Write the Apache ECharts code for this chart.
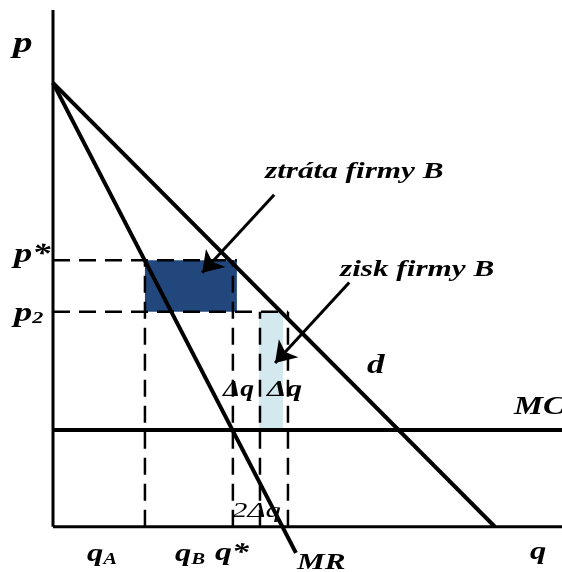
<!DOCTYPE html>
<html>
<head>
<meta charset="utf-8">
<script src="https://cdn.jsdelivr.net/npm/echarts@6/dist/echarts.min.js"></script>
<style>
  html, body { margin: 0; padding: 0; background: #fff; }
  #chart { width: 562px; height: 572px; }
</style>
</head>
<body>
<div id="chart"></div>
<script>
// Price / quantity model (price p on the vertical axis, quantity q on the horizontal)
const demandCurve = [[0, 100], [99.5, 0]];
const marginalRevenue = [[0, 100], [54.7, -5.9]];
const marginalCost = 21.8;
const priceStar = 60;
const priceTwo = 48.4;
const qEdges = [20.7, 40.5, 46.6, 52.9];        // dashed guide quantities
const lossBox = [20.7, 41.4, priceTwo, priceStar];  // q0, q1, p0, p1
const profitBox = [46.4, 51.8, marginalCost, priceTwo];
const lossArrow = [[49.8, 74.8], [33.6, 57.2]];
const profitArrow = [[66.7, 55.0], [50.0, 36.9]];
const qMax = 114.6;
const pMax = 116.4;
const pMin = -10.2;

const SERIF = '"Liberation Serif", "DejaVu Serif", serif';
const WIDE = 1.3;   // labels are set in a horizontally widened face
const thick = { color: '#000', width: 4 };
const dashed = { color: '#000', width: 2.5, type: [17, 9] };

function seg(points, style, z) {
  return {
    type: 'line', data: points, symbol: 'none', silent: true,
    lineStyle: style, z: z || 3, animation: false
  };
}

const series = [
  // dashed guides
  seg([[0, priceStar], [lossBox[1], priceStar]], dashed, 4),
  seg([[0, priceTwo], [qEdges[3], priceTwo]], dashed, 4),
  seg([[qEdges[0], 0], [qEdges[0], priceStar]], dashed, 4),
  seg([[qEdges[1], 0], [qEdges[1], priceStar]], dashed, 4),
  seg([[qEdges[2], 0], [qEdges[2], priceTwo]], dashed, 4),
  seg([[qEdges[3], 0], [qEdges[3], priceTwo]], dashed, 4),
  // axes
  seg([[0, 0], [0, pMax]], { color: '#000', width: 3 }, 5),
  seg([[0, 0], [qMax, 0]], { color: '#000', width: 3 }, 5),
  // curves
  seg(demandCurve, thick, 6),
  seg(marginalRevenue, thick, 6),
  seg([[0, marginalCost], [qMax, marginalCost]], thick, 6),
  // shaded areas
  {
    type: 'custom', silent: true, animation: false, z: 2,
    data: [lossBox.concat(0), profitBox.concat(1)],
    renderItem: function (params, api) {
      const a = api.coord([api.value(0), api.value(3)]);
      const b = api.coord([api.value(1), api.value(2)]);
      return {
        type: 'rect',
        shape: { x: a[0], y: a[1], width: b[0] - a[0], height: b[1] - a[1] },
        style: { fill: api.value(4) === 0 ? '#21477d' : '#d3e9ef' }
      };
    }
  },
  // annotation arrows
  {
    type: 'lines', coordinateSystem: 'cartesian2d', silent: true, animation: false, z: 7,
    symbol: ['none', 'arrow'], symbolSize: [0, 20],
    lineStyle: { color: '#000', width: 3, opacity: 1 },
    data: [{ coords: lossArrow }, { coords: profitArrow }]
  }
];

function label(text, x, y, size, weight, sx) {
  return {
    type: 'text', x: x, y: y, silent: true, z: 20, scaleX: sx || WIDE,
    style: {
      text: text, fill: '#000',
      font: 'italic ' + (weight || 'bold') + ' ' + size + 'px ' + SERIF,
      align: 'left', verticalAlign: 'middle'
    }
  };
}

function subLabel(main, sub, x, y, size, subSize) {
  return {
    type: 'text', x: x, y: y, silent: true, z: 20, scaleX: WIDE,
    style: {
      text: '{m|' + main + '}{s|' + sub + '}', verticalAlign: 'middle',
      rich: {
        m: { fontSize: size, fontStyle: 'italic', fontWeight: 'bold', fontFamily: SERIF, fill: '#000' },
        s: { fontSize: subSize, fontStyle: 'italic', fontWeight: 'bold', fontFamily: SERIF, fill: '#000', padding: [10, 0, 0, 0] }
      }
    }
  };
}

const graphics = [
  label('p', 13, 44, 30),
  label('p*', 14, 255, 28),
  subLabel('p', '2', 14, 314, 28, 17),
  label('ztráta firmy B', 265, 172, 24),
  label('zisk firmy B', 340, 270, 24),
  label('d', 367, 366, 27),
  label('MC', 514, 408, 25),
  label('Δq', 223, 390, 24, 'bold', 1.15),
  label('Δq', 267, 390, 24, 'bold', 1.3),
  label('2Δq', 232, 511, 22, 'normal', 1.4),
  subLabel('q', 'A', 87, 555, 25, 16),
  subLabel('q', 'B', 175, 555, 25, 16),
  label('q*', 215, 553, 26),
  label('MR', 297, 563, 24),
  label('q', 530, 553, 25)
];

const chart = echarts.init(document.getElementById('chart'), null, { renderer: 'canvas' });
chart.setOption({
  animation: false,
  backgroundColor: '#fff',
  grid: { left: 53, right: 0, top: 10, bottom: 0, containLabel: false },
  xAxis: {
    type: 'value', min: 0, max: qMax,
    axisLine: { show: false }, axisTick: { show: false },
    axisLabel: { show: false }, splitLine: { show: false }
  },
  yAxis: {
    type: 'value', min: pMin, max: pMax,
    axisLine: { show: false }, axisTick: { show: false },
    axisLabel: { show: false }, splitLine: { show: false }
  },
  series: series,
  graphic: graphics
});
</script>
</body>
</html>
